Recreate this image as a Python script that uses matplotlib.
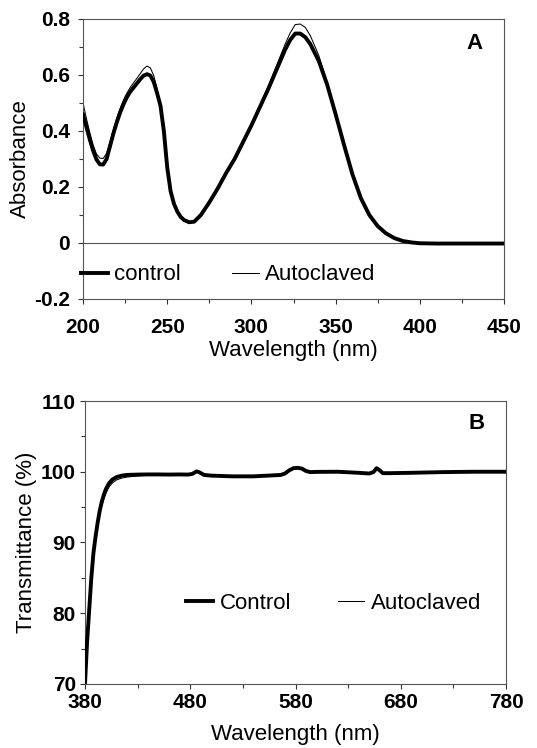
import matplotlib
matplotlib.use('Agg')
import matplotlib.pyplot as plt
from matplotlib.ticker import MultipleLocator, FixedLocator, FuncFormatter

plt.rcParams['font.family'] = ['Liberation Sans', 'DejaVu Sans']
plt.rcParams['axes.unicode_minus'] = False

# panel A: absorbance spectra
wl_a = [200, 202, 204, 206, 208, 210, 212, 214, 216, 218, 220, 222, 224, 226, 228,
        230, 232, 234, 236, 238, 240, 242, 244, 246, 248, 250, 252, 254, 256, 258,
        260, 263, 266, 270, 275, 280, 285, 290, 295, 300, 305, 310, 315, 320, 323,
        326, 329, 332, 335, 340, 345, 350, 355, 360, 365, 370, 375, 380, 385, 390,
        395, 400, 410, 420, 430, 440, 450]
abs_control = [0.459, 0.415, 0.37, 0.33, 0.298, 0.281, 0.28, 0.30, 0.345, 0.39, 0.43,
               0.465, 0.495, 0.52, 0.54, 0.555, 0.57, 0.585, 0.598, 0.603, 0.598, 0.575,
               0.535, 0.49, 0.40, 0.27, 0.185, 0.14, 0.112, 0.093, 0.082, 0.074, 0.076,
               0.10, 0.145, 0.195, 0.25, 0.30, 0.36, 0.42, 0.485, 0.55, 0.62, 0.69, 0.725,
               0.748, 0.748, 0.735, 0.71, 0.65, 0.565, 0.46, 0.35, 0.245, 0.16, 0.10,
               0.06, 0.034, 0.017, 0.007, 0.002, -0.001, -0.002, -0.002, -0.002, -0.002,
               -0.002]
abs_autoclaved = [0.50, 0.445, 0.395, 0.35, 0.318, 0.303, 0.302, 0.32, 0.36, 0.405, 0.445,
                  0.48, 0.51, 0.535, 0.555, 0.572, 0.588, 0.605, 0.622, 0.632, 0.625, 0.598,
                  0.55, 0.49, 0.40, 0.272, 0.187, 0.142, 0.113, 0.094, 0.083, 0.075, 0.077,
                  0.10, 0.146, 0.197, 0.252, 0.303, 0.364, 0.425, 0.49, 0.56, 0.635, 0.71,
                  0.75, 0.78, 0.782, 0.77, 0.74, 0.67, 0.575, 0.465, 0.352, 0.246, 0.161,
                  0.10, 0.06, 0.034, 0.017, 0.007, 0.002, -0.001, -0.002, -0.002, -0.002,
                  -0.002, -0.002]

# panel B: transmittance spectra
wl_b = [380, 382, 384, 386, 388, 390, 392, 394, 396, 398, 400, 403, 406, 410, 415, 420,
        430, 440, 450, 460, 470, 478, 482, 486, 489, 493, 500, 520, 540, 560, 566, 570,
        574, 578, 582, 586, 590, 594, 600, 620, 640, 650, 654, 657, 660, 663, 670, 690,
        720, 750, 780]
tr_control = [70, 76, 80.5, 85, 88.5, 90.8, 92.8, 94.5, 95.8, 96.8, 97.6, 98.4, 98.9,
              99.25, 99.45, 99.55, 99.6, 99.62, 99.62, 99.6, 99.62, 99.6, 99.7, 100.05,
              99.9, 99.55, 99.45, 99.35, 99.35, 99.5, 99.55, 99.75, 100.2, 100.5, 100.55,
              100.45, 100.1, 99.95, 99.98, 100.0, 99.85, 99.75, 99.95, 100.5, 100.2, 99.8,
              99.8, 99.85, 99.95, 100.0, 100.0]
tr_autoclaved = [70, 76, 80.3, 84.6, 88.0, 90.4, 92.4, 94.0, 95.2, 96.2, 97.0, 97.9, 98.4,
                 98.85, 99.1, 99.25, 99.4, 99.5, 99.55, 99.6, 99.62, 99.6, 99.7, 100.05,
                 99.9, 99.55, 99.45, 99.35, 99.35, 99.5, 99.55, 99.75, 100.2, 100.5, 100.55,
                 100.45, 100.1, 99.95, 99.98, 100.0, 99.85, 99.75, 99.95, 100.5, 100.2, 99.8,
                 99.8, 99.85, 99.95, 100.0, 100.0]

xticks_a = [200, 250, 300, 350, 400, 450]
xticks_b = [380, 480, 580, 680, 780]

thick = 2.8
thin = 0.75
spine_col = '#555555'
label_size = 16


def style_axes(ax, xpad, ypad):
    for s in ax.spines.values():
        s.set_color(spine_col)
        s.set_linewidth(0.8)
    ax.tick_params(which='both', direction='out', color='#333333', width=0.8)
    ax.tick_params(which='major', length=3.5)
    ax.tick_params(which='minor', length=3)
    ax.tick_params(axis='x', pad=xpad)
    ax.tick_params(axis='y', pad=ypad)
    for lab in ax.get_xticklabels() + ax.get_yticklabels():
        lab.set_fontsize(15)
        lab.set_fontweight('bold')


fig = plt.figure(figsize=(5.37, 7.48), dpi=100)

# ---- panel A
ax1 = fig.add_axes([0.1546, 0.6003, 0.784, 0.3743])
ax1.axhline(0, color='#555555', lw=0.8, zorder=1)
ax1.plot(wl_a, abs_control, color='black', lw=thick, label='control', zorder=3)
ax1.plot(wl_a, abs_autoclaved, color='black', lw=thin, label='Autoclaved', zorder=2)
ax1.set_xlim(200, 450)
ax1.set_ylim(-0.2, 0.8)
ax1.xaxis.set_major_locator(FixedLocator(xticks_a))
ax1.xaxis.set_minor_locator(MultipleLocator(25))
ax1.yaxis.set_major_locator(MultipleLocator(0.2))
ax1.yaxis.set_minor_locator(MultipleLocator(0.1))
ax1.yaxis.set_major_formatter(FuncFormatter(lambda v, p: '%g' % round(v, 2)))
ax1.set_xlabel('Wavelength (nm)', fontsize=label_size, labelpad=2)
ax1.set_ylabel('Absorbance', fontsize=label_size, labelpad=2)
style_axes(ax1, 10, 6)
ax1.text(0.93, 0.914, 'A', transform=ax1.transAxes, ha='center', va='center',
         fontsize=16, fontweight='bold')
ax1.legend(loc='center left', bbox_to_anchor=(-0.005, 0.086), ncol=2, frameon=False,
           fontsize=16, handlelength=1.2, handletextpad=0.3, columnspacing=2.3,
           borderpad=0, borderaxespad=0)

# ---- panel B
ax2 = fig.add_axes([0.1583, 0.0856, 0.784, 0.3783])
ax2.plot(wl_b, tr_control, color='black', lw=thick, label='Control', zorder=3)
ax2.plot(wl_b, tr_autoclaved, color='black', lw=thin, label='Autoclaved', zorder=2)
ax2.set_xlim(380, 780)
ax2.set_ylim(70, 110)
ax2.xaxis.set_major_locator(FixedLocator(xticks_b))
ax2.xaxis.set_minor_locator(FixedLocator(list(range(430, 780, 100))))
ax2.yaxis.set_major_locator(MultipleLocator(10))
ax2.yaxis.set_minor_locator(MultipleLocator(5))
ax2.set_xlabel('Wavelength (nm)', fontsize=label_size, labelpad=9)
ax2.set_ylabel('Transmittance (%)', fontsize=label_size, labelpad=3)
style_axes(ax2, 3, 3)
ax2.text(0.93, 0.922, 'B', transform=ax2.transAxes, ha='center', va='center',
         fontsize=16, fontweight='bold')
ax2.legend(loc='center left', bbox_to_anchor=(0.24, 0.286), ncol=2, frameon=False,
           fontsize=16, handlelength=1.2, handletextpad=0.3, columnspacing=2.1,
           borderpad=0, borderaxespad=0)

fig.savefig('out.png', dpi=100)
